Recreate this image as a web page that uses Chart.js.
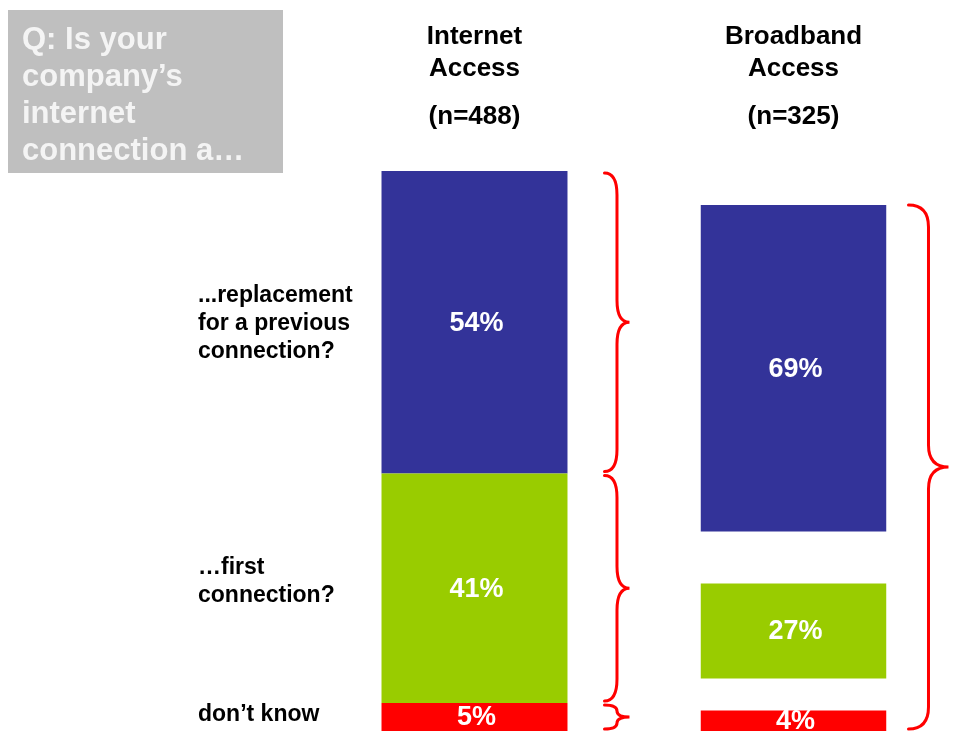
<!DOCTYPE html>
<html>
<head>
<meta charset="utf-8">
<script src="https://cdn.jsdelivr.net/npm/chart.js@4/dist/chart.umd.min.js"></script>
<style>
  html, body { margin: 0; padding: 0; background: #fff; }
  #wrap { width: 954px; height: 731px; position: relative; }
</style>
</head>
<body>
<div id="wrap"><canvas id="chart"></canvas></div>
<script>
// chart values
const barTitles = [['Internet', 'Access'], ['Broadband', 'Access']];
const sampleSizes = ['(n=488)', '(n=325)'];
const answerLabels = [
    ['...replacement', 'for a previous', 'connection?'],
    ['\u2026first', 'connection?'],
    ['don\u2019t know']
];
const replacement = [54, 69];
const firstConnection = [41, 27];
const dontKnow = [5, 4];
const question = ['Q: Is your', 'company\u2019s', 'internet', 'connection a\u2026'];

// which segments each brace covers (dataset indexes), per bar
const braceGroups = [[[2], [1], [0]], [[0, 1, 2]]];

const FONT = '"Liberation Sans", Arial, sans-serif';
const BLUE = '#333399', GREEN = '#99cc00', RED = '#ff0000';

// white gaps between segments of the broadband bar
const gapStyle = [
    { top: 2, bottom: 0, left: 0, right: 0 },
    { top: 26, bottom: 30, left: 0, right: 0 },
    { top: 34, bottom: 26, left: 0, right: 0 }
];
// small nudges of the left-hand answer labels (by dataset)
const answerNudge = [-3, -8, 0];

function gapFor(dsIndex, dataIndex) {
    return dataIndex === 1 ? gapStyle[dsIndex] : { top: 0, bottom: 0, left: 0, right: 0 };
}

function visibleBounds(el, dsIndex, dataIndex) {
    const g = gapFor(dsIndex, dataIndex);
    const top = Math.min(el.y, el.base) + g.top;
    const bottom = Math.max(el.y, el.base) - g.bottom;
    return { top, bottom, left: el.x - el.width / 2, right: el.x + el.width / 2 };
}

function drawBrace(ctx, x0, xt, top, bottom) {
    const xm = (x0 + xt) / 2;
    const mid = (top + bottom) / 2;
    const r = Math.min(22, (bottom - top) / 4);
    ctx.beginPath();
    ctx.moveTo(x0, top);
    ctx.quadraticCurveTo(xm, top, xm, top + r);
    ctx.lineTo(xm, mid - r);
    ctx.quadraticCurveTo(xm, mid, xt, mid);
    ctx.quadraticCurveTo(xm, mid, xm, mid + r);
    ctx.lineTo(xm, bottom - r);
    ctx.quadraticCurveTo(xm, bottom, x0, bottom);
    ctx.stroke();
}

const decorations = {
    id: 'decorations',
    afterDraw(chart) {
        const ctx = chart.ctx;
        ctx.save();

        // question box
        ctx.fillStyle = '#bfbfbf';
        ctx.fillRect(8, 10, 275, 163);
        ctx.fillStyle = '#f4f4f4';
        ctx.font = 'bold 31px ' + FONT;
        ctx.textAlign = 'left';
        ctx.textBaseline = 'middle';
        question.forEach((line, i) => ctx.fillText(line, 22, 40 + i * 37));

        // column headers
        const metaFirst = chart.getDatasetMeta(0);
        ctx.fillStyle = '#000';
        ctx.font = 'bold 26px ' + FONT;
        ctx.textAlign = 'center';
        metaFirst.data.forEach((el, i) => {
            barTitles[i].forEach((line, j) => ctx.fillText(line, el.x, 37 + j * 32));
            ctx.fillText(sampleSizes[i], el.x, 117);
        });

        // value labels inside segments + answer labels on the left
        chart.data.datasets.forEach((ds, di) => {
            const meta = chart.getDatasetMeta(di);
            meta.data.forEach((el, i) => {
                const b = visibleBounds(el, di, i);
                const cy = (b.top + b.bottom) / 2;
                ctx.fillStyle = '#fff';
                ctx.font = 'bold 27px ' + FONT;
                ctx.textAlign = 'center';
                ctx.fillText(ds.data[i] + '%', el.x + 2, cy + 1);
                if (i === 0) {
                    const lines = ds.answer;
                    ctx.fillStyle = '#000';
                    ctx.font = 'bold 23px ' + FONT;
                    ctx.textAlign = 'left';
                    const lh = 28;
                    const start = cy - (lines.length - 1) * lh / 2 + 1 + answerNudge[di];
                    lines.forEach((line, j) => ctx.fillText(line, 198, start + j * lh));
                }
            });
        });

        // red curly braces
        ctx.strokeStyle = RED;
        ctx.lineWidth = 3;
        ctx.lineCap = 'round';
        const braceOffsets = [[37, 62], [22, 62]];
        braceGroups.forEach((groups, i) => {
            groups.forEach(group => {
                let top = Infinity, bottom = -Infinity, right = 0;
                group.forEach(di => {
                    const el = chart.getDatasetMeta(di).data[i];
                    const b = visibleBounds(el, di, i);
                    top = Math.min(top, b.top);
                    bottom = Math.max(bottom, b.bottom);
                    right = b.right;
                });
                const inset = group.length === 1 ? 2 : 0;
                drawBrace(ctx, right + braceOffsets[i][0], right + braceOffsets[i][1],
                    top + inset, Math.min(bottom - inset, chart.height - 2));
            });
        });

        ctx.restore();
    }
};

const ctx = document.getElementById('chart').getContext('2d');
new Chart(ctx, {
    type: 'bar',
    data: {
        labels: barTitles.map(t => t.join(' ')),
        datasets: [
            { label: 'don\u2019t know', data: dontKnow, backgroundColor: RED, answer: answerLabels[2] },
            { label: 'first connection', data: firstConnection, backgroundColor: GREEN, answer: answerLabels[1] },
            { label: 'replacement', data: replacement, backgroundColor: BLUE, answer: answerLabels[0] }
        ].map((ds, di) => Object.assign(ds, {
            borderColor: '#fff',
            borderSkipped: false,
            borderWidth: c => gapFor(di, c.dataIndex),
            inflateAmount: 0,
            categoryPercentage: 1,
            barPercentage: 0.583
        }))
    },
    options: {
        responsive: true,
        maintainAspectRatio: false,
        animation: false,
        layout: { padding: { left: 315, right: 1, top: 171, bottom: 0 } },
        plugins: {
            legend: { display: false },
            tooltip: { enabled: false }
        },
        scales: {
            x: { stacked: true, display: false },
            y: { stacked: true, display: false, min: 0, max: 100 }
        }
    },
    plugins: [decorations]
});
</script>
</body>
</html>
